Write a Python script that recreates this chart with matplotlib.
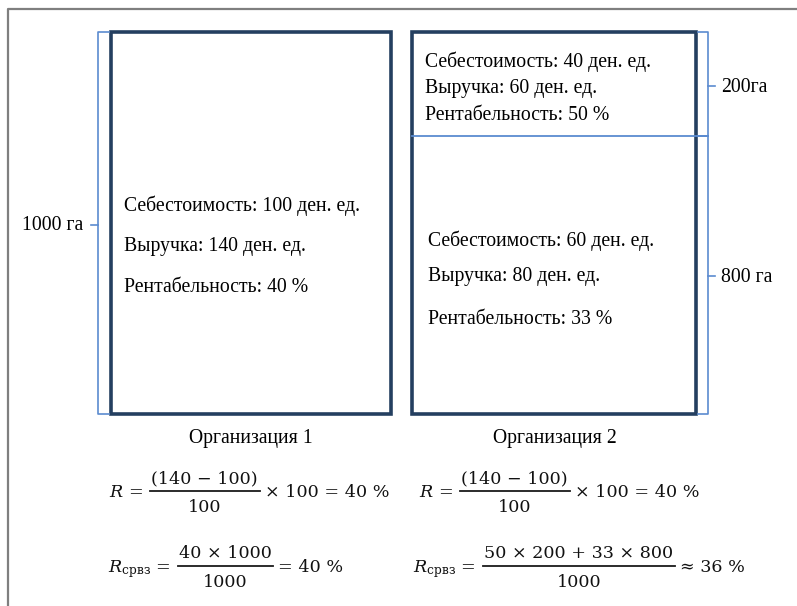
import matplotlib
matplotlib.use("Agg")
import matplotlib.pyplot as plt
from matplotlib.patches import Rectangle

plt.rcParams['font.family'] = ['Liberation Serif', 'DejaVu Serif']
plt.rcParams['mathtext.fontset'] = 'dejavuserif'

# ---- data ----
org_names = ["Организация 1", "Организация 2"]
areas_org1 = [1000]
areas_org2 = [200, 800]
cost_org1 = [100]
revenue_org1 = [140]
profit_org1 = [40]
cost_org2 = [40, 60]
revenue_org2 = [60, 80]
profit_org2 = [50, 33]
area_labels = ["1000 га", "200га", "800 га"]

W, H = 797, 606
fig = plt.figure(figsize=(W / 100, H / 100), dpi=100)
ax = fig.add_axes([0, 0, 1, 1])
ax.set_xlim(0, W)
ax.set_ylim(H, 0)
ax.axis('off')
renderer = fig.canvas.get_renderer()

navy = '#243F60'
blue = '#5B8BD0'
gray = '#7F7F7F'
fs = 14.2

# outer frame
ax.plot([8.5, 8.5, W + 5], [H + 5, 8.5, 8.5], color=gray, lw=1.6, solid_capstyle='butt')

# boxes
ax.add_patch(Rectangle((111, 32), 280, 382, fill=False, ec=navy, lw=2.6))
ax.add_patch(Rectangle((412, 32), 284, 382, fill=False, ec=navy, lw=2.6))
ax.plot([412, 708], [136, 136], color=blue, lw=1.3)


def bracket(x_open, x_line, y0, y1, ytip, xtip):
    ax.plot([x_open, x_line, x_line, x_open], [y0, y0, y1, y1], color=blue, lw=1.2)
    ax.plot([x_line, xtip], [ytip, ytip], color=blue, lw=1.2)


bracket(109, 98, 32, 414, 225, 91)
bracket(698, 708, 32, 136, 86, 715)
bracket(698, 708, 136, 414, 276, 715)

ax.text(83, 226, area_labels[0], ha='right', va='center', fontsize=fs)
ax.text(721, 87, area_labels[1], ha='left', va='center', fontsize=fs)
ax.text(721, 277, area_labels[2], ha='left', va='center', fontsize=fs)

# box 1 texts
ys1 = [206, 246, 287]
ax.text(124, ys1[0], f"Себестоимость: {cost_org1[0]} ден. ед.", va='center', fontsize=fs)
ax.text(124, ys1[1], f"Выручка: {revenue_org1[0]} ден. ед.", va='center', fontsize=fs)
ax.text(124, ys1[2], f"Рентабельность: {profit_org1[0]} %", va='center', fontsize=fs)

# box 2 texts
ys2a = [62, 88, 116]
ax.text(425, ys2a[0], f"Себестоимость: {cost_org2[0]} ден. ед.", va='center', fontsize=fs)
ax.text(425, ys2a[1], f"Выручка: {revenue_org2[0]} ден. ед.", va='center', fontsize=fs)
ax.text(425, ys2a[2], f"Рентабельность: {profit_org2[0]} %", va='center', fontsize=fs)
ys2b = [241, 276, 319]
ax.text(428, ys2b[0], f"Себестоимость: {cost_org2[1]} ден. ед.", va='center', fontsize=fs)
ax.text(428, ys2b[1], f"Выручка: {revenue_org2[1]} ден. ед.", va='center', fontsize=fs)
ax.text(428, ys2b[2], f"Рентабельность: {profit_org2[1]} %", va='center', fontsize=fs)

ax.text(251, 438, org_names[0], ha='center', va='center', fontsize=fs)
ax.text(555, 439, org_names[1], ha='center', va='center', fontsize=fs)

# formulas (built from pieces: left side, fraction, right side)
mfs = 12.6
mfam = ['DejaVu Serif']


def width_of(t):
    return t.get_window_extent(renderer).width


def formula(x0, ybar, left, num, den, right, gap_l=7, gap_r=5):
    kw = dict(fontsize=mfs, family=mfam, color='#111111')
    tl = ax.text(x0, ybar + 6, left, ha='left', va='baseline', **kw)
    xb0 = x0 + width_of(tl) + gap_l
    tn = ax.text(0, ybar - 8, num, ha='center', va='baseline', **kw)
    td = ax.text(0, ybar + 21, den, ha='center', va='baseline', **kw)
    bw = max(width_of(tn), width_of(td)) + 3
    xc = xb0 + bw / 2
    tn.set_x(xc)
    td.set_x(xc)
    ax.plot([xb0, xb0 + bw], [ybar, ybar], color='#1a1a1a', lw=1.3)
    ax.text(xb0 + bw + gap_r, ybar + 6, right, ha='left', va='baseline', **kw)


R1 = (revenue_org1[0] - cost_org1[0]) / cost_org1[0] * 100
for x0 in (109, 419):
    formula(x0, 491, r"$R$ =",
            "(%d \u2212 %d)" % (revenue_org1[0], cost_org1[0]),
            "%d" % cost_org1[0],
            "× 100 = %d %%" % round(R1))

formula(108, 566, r"$R_{\mathrm{срвз}}$ =",
        "%d × %d" % (profit_org1[0], areas_org1[0]),
        "%d" % areas_org1[0],
        "= %d %%" % profit_org1[0])

tot = sum(areas_org2)
Rw = (profit_org2[0] * areas_org2[0] + profit_org2[1] * areas_org2[1]) / tot
formula(413, 566, r"$R_{\mathrm{срвз}}$ =",
        "%d × %d + %d × %d" % (profit_org2[0], areas_org2[0],
                               profit_org2[1], areas_org2[1]),
        "%d" % tot,
        "≈ %d %%" % round(Rw))

fig.savefig("out.png", dpi=100)
